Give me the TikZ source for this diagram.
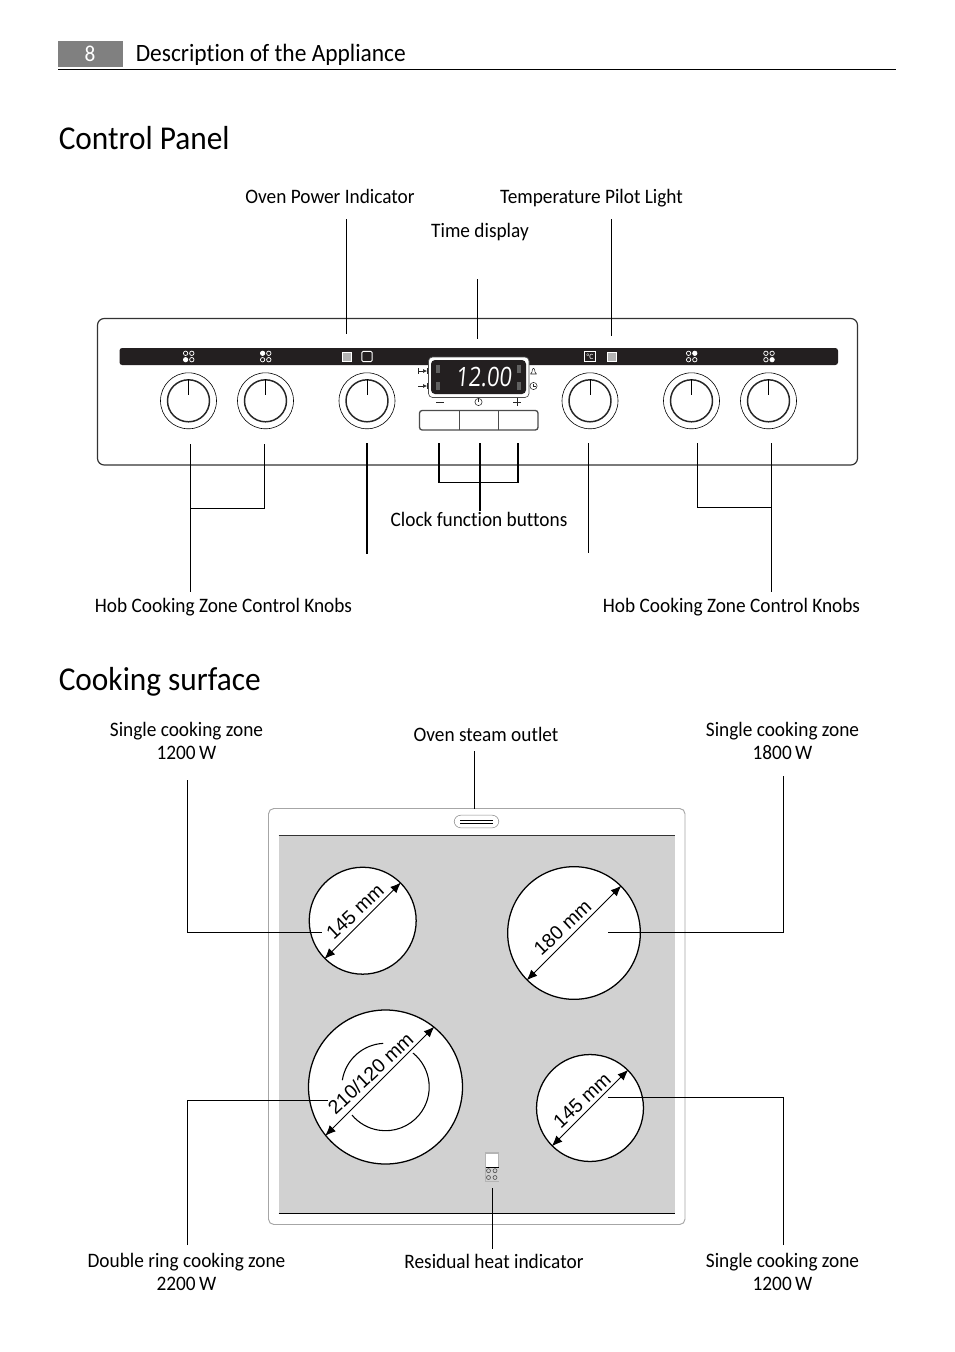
\documentclass[tikz,border=0pt]{standalone}
\usepackage{graphicx}
\usepackage{fontspec}
\setmainfont[FakeStretch=0.94,Ligatures=NoCommon]{Carlito}
\newfontfamily\segfont[FakeSlant=0.12]{Open Sans}
\newfontfamily\dimfont{Liberation Sans}
\usetikzlibrary{arrows.meta}
\definecolor{barblack}{HTML}{231F20}
\definecolor{hobgray}{HTML}{D1D1D1}
\definecolor{tabgray}{HTML}{808080}
\definecolor{rimgray}{HTML}{B4B4B4}
\tikzset{
  x=0.75pt,y=-0.75pt,
  lbl/.style={inner sep=0pt,font=\fontsize{15.4pt}{16.6pt}\selectfont,align=center,text=black},
  ttl/.style={inner sep=0pt,anchor=base west,font=\fontsize{25pt}{28pt}\selectfont},
  lead/.style={draw=black,line width=0.8pt},
  leadb/.style={draw=black,line width=1.2pt},
  zone/.style={circle,draw=black,fill=white,line width=0.95pt,inner sep=0pt},
  dimarrow/.style={draw=black,line width=0.7pt,{Latex[length=8pt,width=6.5pt]}-{Latex[length=8pt,width=6.5pt]}},
  dimtxt/.style={inner sep=0pt,font=\dimfont\fontsize{14.6pt}{15pt}\selectfont},
  knobouter/.style={circle,draw=black,fill=white,line width=0.45pt,minimum size=42pt,inner sep=0pt},
  knobinner/.style={circle,draw=black!85,fill=white,line width=1.1pt,minimum size=31.5pt,inner sep=0pt},
  pointer/.style={draw=black,line width=0.6pt},
  lampoff/.style={circle,draw=white,line width=0.55pt,minimum size=3.3pt,inner sep=0pt},
  lampon/.style={circle,draw=white,fill=white,line width=0.55pt,minimum size=3.3pt,inner sep=0pt},
  led/.style={fill=black!62,draw=none,minimum width=2.6pt,minimum height=6pt,inner sep=0pt},
  tiny/.style={draw=black!85,line width=0.4pt},
}
\begin{document}
\begin{tikzpicture}
\useasboundingbox[fill=white] (0,0) rectangle (954,1352);
% header
\node[fill=tabgray,minimum width=48.75pt,minimum height=19.5pt,inner sep=0pt,anchor=north west] (tab) at (58,41) {};
\node[inner sep=0pt,text=white,font=\fontsize{17pt}{17pt}\selectfont] (pg) at (90,54) {8};
\node[inner sep=0pt,anchor=base west,font=\fontsize{18.7pt}{20pt}\selectfont] (hdr) at (135.5,61.5) {Description of the Appliance};
\draw[black,line width=0.7pt] (58,69.5) -- (896,69.5);
\node[ttl] (t1) at (58.5,150) {Control Panel};
\node[ttl] (t2) at (58.5,690.5) {Cooking surface};

% control panel body
\draw[black!80,line width=0.9pt,rounded corners=5pt,fill=white] (97.5,318.5) rectangle (857.5,465);
\fill[barblack,rounded corners=2pt] (119.5,348) rectangle (838,365);

% lamps
\foreach \n/\cx/\on in {a/188.7/3,b/265.7/1,c/691.7/2,d/769/4}{
  \foreach \i/\dx/\dy in {1/-3.1/-3.2,2/3.1/-3.2,3/-3.1/3.2,4/3.1/3.2}{
    \ifnum\i=\on
      \node[lampon] (l\n\i) at (\cx+\dx,356.5+\dy) {};
    \else
      \node[lampoff] (l\n\i) at (\cx+\dx,356.5+\dy) {};
    \fi
  }
}
\node[fill=rimgray,draw=white,line width=0.4pt,minimum size=6.6pt,inner sep=0pt] (sq1) at (346.5,356.5) {};
\node[draw=white,line width=0.7pt,rounded corners=1pt,minimum size=7.8pt,inner sep=0pt] (sq2) at (367,356.5) {};
\node[fill=rimgray,draw=white,line width=0.4pt,minimum size=6.6pt,inner sep=0pt] (sq3) at (611.5,356.5) {};
\node[draw=white,line width=0.7pt,minimum size=7.8pt,inner sep=0pt,text=white,font=\fontsize{6pt}{6pt}\selectfont] (sq4) at (590,356.5) {°C};

% knobs
\foreach \n/\cx in {k1/188.5,k2/265.5,k3/367,k4/590,k5/691.5,k6/768.5}{
  \node[knobouter] (\n o) at (\cx,400.8) {};
  \node[knobinner] (\n) at (\cx,400.8) {};
  \draw[pointer] (\n.north) -- ++(0,16);
}

% display
\draw[black!70,line width=0.5pt,fill=white,rounded corners=3pt] (428.5,357) rectangle (529,397.5);
\fill[barblack,rounded corners=3pt] (431,360) rectangle (526,394);
\node[inner sep=0pt,text=white,font=\segfont\fontsize{20pt}{20pt}\selectfont] (clock) at (483.5,377.5) {\scalebox{0.82}[1]{12.00}};
\node[led] (ld1) at (438,369) {};
\node[led] (ld2) at (438,385.5) {};
\node[led] (ld3) at (519,369) {};
\node[led] (ld4) at (519,385.5) {};
% small display icons
\draw[tiny] (418.5,368) -- (418.5,374);
\draw[tiny,-{Latex[length=3pt,width=3pt]}] (418.5,371) -- (427,371);
\draw[tiny] (427,368) -- (427,374);
\draw[tiny,-{Latex[length=3pt,width=3pt]}] (418,386) -- (427,386);
\draw[tiny] (427,383) -- (427,389);
\draw[tiny,line join=round] (530.5,374) -- (536.5,374) -- (535,372) .. controls (535,367) and (532,367) .. (532,372) -- cycle;
\draw[tiny] (533.5,386) circle (3.6);
\draw[tiny] (533.5,383.5) -- (533.5,386) -- (535.5,386);
\draw[tiny] (436,402) -- (444,402);
\draw[tiny] (478.5,402) circle (3.6);
\draw[tiny] (478.5,398) -- (478.5,402);
\draw[tiny] (513,402) -- (521,402);
\draw[tiny] (517,398) -- (517,406);
% buttons
\draw[black!70,line width=1pt,rounded corners=2pt,fill=white] (419.5,410.5) rectangle (538,430);
\draw[black!70,line width=0.7pt] (459,410.5) -- (459,430);
\draw[black!70,line width=0.7pt] (498,410.5) -- (498,430);

% control panel labels and leaders
\node[lbl,anchor=base] (opi) at (330,203) {Oven Power Indicator};
\node[lbl,anchor=base] (tpl) at (591.5,203) {Temperature Pilot Light};
\node[lbl,anchor=base] (tdl) at (480,237) {Time display};
\node[lbl,anchor=base] (cfb) at (479,526) {Clock function buttons};
\node[lbl,anchor=base] (hl) at (223.5,612) {Hob Cooking Zone Control Knobs};
\node[lbl,anchor=base] (hr) at (731.5,612) {Hob Cooking Zone Control Knobs};
\coordinate (c1a) at (346.5,219); \coordinate (c1b) at (346.5,334);
\coordinate (c2a) at (477.5,279); \coordinate (c2b) at (477.5,339);
\coordinate (c3a) at (611.5,219); \coordinate (c3b) at (611.5,336);
\draw[lead] (c1a) -- (c1b);
\draw[lead] (c2a) -- (c2b);
\draw[leadb] (c3a) -- (c3b);
\coordinate (k1e) at (190.5,444); \coordinate (k1f) at (190.5,592);
\coordinate (k2e) at (264.5,444); \coordinate (k2f) at (264.5,508.5);
\draw[lead] (k1e) -- (k1f);
\draw[lead] (k2e) -- (k2f) -- (k2f -| k1e);
\coordinate (k3e) at (367,443); \coordinate (k3f) at (367,554);
\draw[lead] (k3e) -- (k3f);
\coordinate (k4e) at (588.5,443); \coordinate (k4f) at (588.5,553);
\draw[lead] (k4e) -- (k4f);
\coordinate (k5e) at (697.5,443); \coordinate (k5f) at (697.5,507.5);
\coordinate (k6e) at (771.5,443); \coordinate (k6f) at (771.5,592);
\draw[lead] (k6e) -- (k6f);
\draw[lead] (k5e) -- (k5f) -- (k5f -| k6e);
\coordinate (b1) at (439,443); \coordinate (b2) at (480,443); \coordinate (b3) at (518,443);
\coordinate (bb1) at (439,482.5); \coordinate (bb3) at (518,482.5);
\draw[lead] (b1) -- (bb1) -- (bb3);
\draw[leadb] (bb3) -- (b3);
\draw[lead] (b2) -- (b2 |- cfb.north);

% cooking surface
\draw[black!35,line width=0.7pt,rounded corners=4pt,fill=white] (268.5,808.5) rectangle (685,1224.5);
\fill[hobgray] (278.5,835) rectangle (674.5,1213.5);
\draw[black!80,line width=0.7pt] (278.5,835) -- (674.5,835);
\draw[black,line width=0.7pt] (278.5,1213.5) -- (674.5,1213.5);
\node[draw=black!45,line width=0.4pt,rounded corners=5pt,minimum width=33.5pt,minimum height=9.5pt,inner sep=0pt] (slot) at (476.5,821.5) {};
\draw[black,line width=0.55pt] (460,820) -- (493,820);
\draw[black,line width=0.55pt] (460,823.2) -- (493,823.2);

\node[zone,minimum size=80.2pt] (z1) at (362.7,920.7) {};
\node[zone,minimum size=99.5pt] (z2) at (574,933) {};
\node[zone,minimum size=115.5pt] (z3) at (385.5,1087) {};
\node[zone,minimum size=80.2pt] (z4) at (590,1108) {};
\draw[black,line width=0.8pt] (z3.center) ++(-51:43.7) arc[start angle=-51,end angle=140,radius=43.7];
\draw[black,line width=0.8pt] (z3.center) ++(-171:43.7) arc[start angle=-171,end angle=-93,radius=43.7];

% dimension arrows
\draw[dimarrow] (z1.-135) -- (z1.45);
\draw[dimarrow] (z2.-135) -- (z2.45);
\draw[dimarrow] (z3.-141.6) -- (z3.51.6);
\draw[dimarrow] (z4.-135) -- (z4.45);
\node[dimtxt,rotate=43] (d1) at (355,912) {145 mm};
\node[dimtxt,rotate=43] (d2) at (562.5,927.5) {180 mm};
\node[dimtxt,rotate=43] (d3) at (370.5,1073.5) {210/120 mm};
\node[dimtxt,rotate=43] (d4) at (582,1100.5) {145 mm};

% residual heat indicator
\node[draw=rimgray,fill=white,line width=0.9pt,minimum width=10pt,minimum height=21pt,inner sep=0pt] (rh) at (492,1167) {};
\fill[hobgray] (485.5,1167.3) rectangle (498.5,1180.5);
\draw[black,line width=0.6pt] (485.5,1167.3) -- (498.5,1167.3);
\foreach \n/\x/\y in {1/488.5/1170.7,2/495/1170.7,3/488.5/1177.5,4/495/1177.5}{
  \node[circle,draw=black!70,line width=0.45pt,minimum size=3pt,inner sep=0pt] (rl\n) at (\x,\y) {};
}

% cooking labels
\node[lbl,anchor=base] (a1) at (186.5,759) {Single cooking zone\\[0pt]1200\,W};
\node[lbl,anchor=base] (a2) at (782.5,759) {Single cooking zone\\[0pt]1800\,W};
\node[lbl,anchor=base] (a3) at (486,741) {Oven steam outlet};
\node[lbl,anchor=base] (a4) at (186.5,1290) {Double ring cooking zone\\[0pt]2200\,W};
\node[lbl,anchor=base] (a5) at (494,1268) {Residual heat indicator};
\node[lbl,anchor=base] (a6) at (782.5,1290) {Single cooking zone\\[0pt]1200\,W};

\coordinate (s1) at (187.5,780); \coordinate (s1e) at (322,932.5);
\draw[lead] (s1) -- (s1 |- s1e) -- (s1e);
\coordinate (s2) at (783.5,776); \coordinate (s2e) at (608,932.5);
\draw[lead] (s2) -- (s2 |- s2e) -- (s2e);
\coordinate (s3) at (474.5,751); \coordinate (s3e) at (474.5,809);
\draw[lead] (s3) -- (s3e);
\coordinate (s4) at (187.5,1245); \coordinate (s4e) at (328,1100.5);
\draw[lead] (s4) -- (s4 |- s4e) -- (s4e);
\coordinate (s5) at (492.5,1188); \coordinate (s5e) at (492.5,1249);
\draw[lead] (s5) -- (s5e);
\coordinate (s6) at (783.5,1245); \coordinate (s6e) at (608,1097.5);
\draw[lead] (s6) -- (s6 |- s6e) -- (s6e);
\end{tikzpicture}
\end{document}
